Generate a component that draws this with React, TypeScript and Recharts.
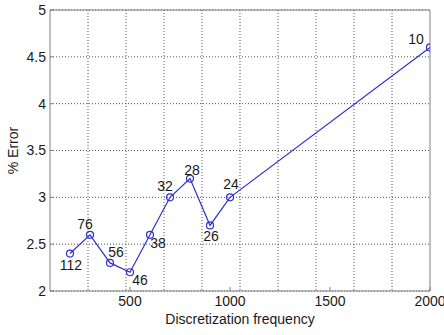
import { LineChart, Line, XAxis, YAxis, CartesianGrid, LabelList, ReferenceLine } from 'recharts';

// discretization frequency vs. % error, each point tagged with a count
const frequency = [200, 300, 400, 500, 600, 700, 800, 900, 1000, 2000];
const errorPct = [2.4, 2.6, 2.3, 2.2, 2.6, 3.0, 3.2, 2.7, 3.0, 4.6];
const pointTags = ['112', '76', '56', '46', '38', '32', '28', '26', '24', '10'];

const xTicks = [500, 1000, 1500, 2000];
const yTicks = [2, 2.5, 3, 3.5, 4, 4.5, 5];
// grid splits the x range into ten equal parts (not on the ticks)
const xGridValues = [290, 480, 670, 860, 1050, 1240, 1430, 1620, 1810];

// where each tag sits relative to its marker (text centre offset, px)
const tagOffsets: [number, number][] = [
  [1, 11], [-5, -11], [6, -11], [10, 8], [8, 8],
  [-5, -11], [2, -9], [1, 11], [1, -13], [-14, -8],
];

const data = frequency.map((f, i) => ({ f, err: errorPct[i], tag: pointTags[i] }));

const FONT = 'Arial, "Liberation Sans", sans-serif';
const BLUE = '#3030d0';
const FRAME = '#808080';
const TEXT = '#1a1a1a';

const TagLabel = (props: any) => {
  const { x, y, index, value } = props;
  const [dx, dy] = tagOffsets[index] || [0, 0];
  return (
    <text x={x + dx} y={y + dy + 5} textAnchor="middle" fontSize={14} fontFamily={FONT} fill={TEXT}>
      {value}
    </text>
  );
};

export default function App() {
  const tickStyle = { fontSize: 14, fontFamily: FONT, fill: TEXT };
  return (
    <div style={{ position: 'absolute', left: 0, top: 0, background: '#fff' }}>
      <LineChart width={444} height={335} data={data} margin={{ top: 10, right: 14, bottom: 0, left: 0 }}>
        <CartesianGrid
          stroke="#555"
          strokeDasharray="1 2"
          verticalValues={xGridValues}
        />
        <XAxis
          dataKey="f"
          type="number"
          domain={[100, 2000]}
          ticks={xTicks}
          height={44}
          stroke={FRAME}
          tickSize={-4}
          tickMargin={9}
          tick={tickStyle}
          allowDataOverflow
          label={{ value: 'Discretization frequency', position: 'insideBottom', offset: 11, style: { fontSize: 14, fontFamily: FONT, fill: TEXT } }}
        />
        <YAxis
          type="number"
          domain={[2, 5]}
          ticks={yTicks}
          width={50}
          stroke={FRAME}
          tickSize={-4}
          tickMargin={8}
          tick={tickStyle}
          label={{ value: '% Error', angle: -90, position: 'insideLeft', offset: 13, style: { fontSize: 14, fontFamily: FONT, fill: TEXT, textAnchor: 'middle' } }}
        />
        {/* close the box on top and right, like a matlab axes */}
        <ReferenceLine y={5} stroke={FRAME} ifOverflow="visible" />
        <ReferenceLine x={2000} stroke={FRAME} ifOverflow="visible" />
        <Line
          dataKey="err"
          stroke={BLUE}
          strokeWidth={1.2}
          dot={{ r: 3.5, stroke: BLUE, strokeWidth: 1.2, fill: 'none' }}
          isAnimationActive={false}
        >
          <LabelList dataKey="tag" content={TagLabel} />
        </Line>
      </LineChart>
    </div>
  );
}
